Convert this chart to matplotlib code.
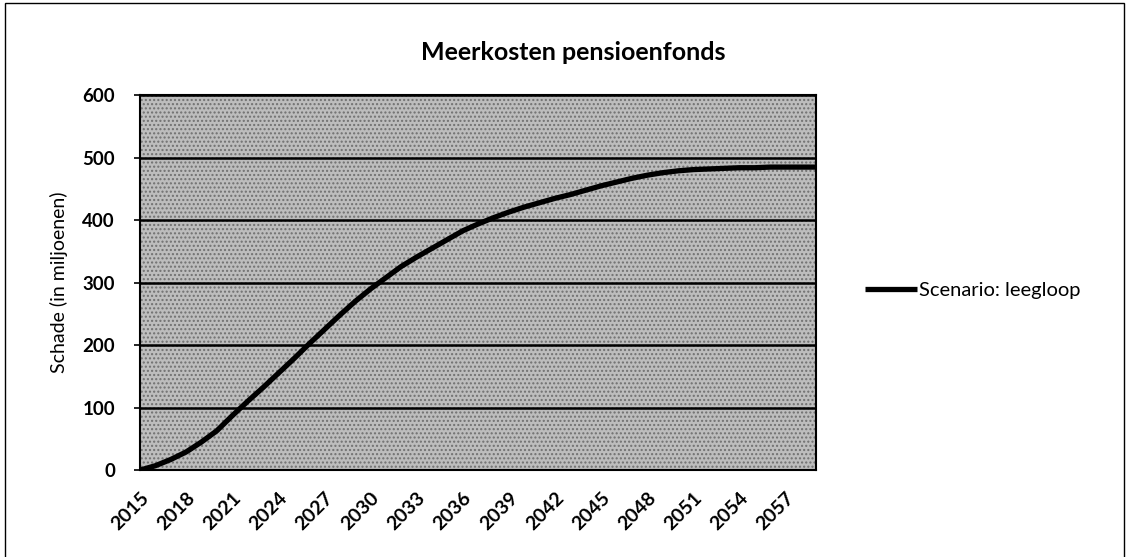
import matplotlib.pyplot as plt
from matplotlib.patches import Rectangle

plt.rcParams['font.family'] = ['Lato', 'DejaVu Sans']

# data (miljoenen per jaar)
years = list(range(2015, 2060))
schade = [0, 7, 17, 29, 45, 63, 87, 110, 132, 155,
          178, 202, 225, 248, 270, 290, 308, 326, 341, 355,
          369, 383, 394, 404, 413, 421, 428, 435, 441, 448,
          455, 461, 467, 472, 476, 479, 481, 482, 483, 484,
          484, 485, 485, 485, 485]
tick_years = years[::3]
y_ticks = [0, 100, 200, 300, 400, 500, 600]

fig = plt.figure(figsize=(11.29, 5.57), dpi=100)
ax = fig.add_axes([0.124, 0.156, 0.599, 0.673])

# outer frame of the chart area
fig.patches.append(Rectangle((0.004, -0.01), 0.992, 1.004, transform=fig.transFigure,
                             fill=False, ec='black', lw=1.0))

ax.set_facecolor('#bdbdbd')
ax.add_patch(Rectangle((0, 0), 1, 1, transform=ax.transAxes, fill=False,
                       hatch='....', ec='#707070', lw=0, zorder=0))

ax.plot(years, schade, color='black', lw=3.8, solid_capstyle='butt',
        label='Scenario: leegloop', zorder=3)

ax.set_xlim(years[0], years[-1])
ax.set_ylim(0, 600)
ax.set_yticks(y_ticks)
ax.set_xticks(tick_years)
ax.set_xticklabels([str(y) for y in tick_years], rotation=45, ha='right',
                   rotation_mode='anchor', fontsize=14, fontweight='bold')
ax.set_yticklabels([str(v) for v in y_ticks], fontsize=13.5, fontweight='bold')
ax.tick_params(axis='x', length=0, pad=14)
ax.tick_params(axis='y', length=4, width=1.2, pad=14)

ax.grid(axis='y', color='black', lw=1.8, zorder=2)
ax.set_axisbelow(False)
for s in ax.spines.values():
    s.set_color('black')
    s.set_linewidth(1.5)

ax.set_ylabel('Schade (in miljoenen)', fontsize=14, labelpad=10)
fig.text(0.508, 0.905, 'Meerkosten pensioenfonds', ha='center', va='center',
         fontsize=18, fontweight='bold')

ax.legend(loc='center left', bbox_to_anchor=(1.045, 0.48), frameon=False,
          fontsize=14.5, handlelength=2.6, handletextpad=0.1)

fig.savefig('out.png', dpi=100)
